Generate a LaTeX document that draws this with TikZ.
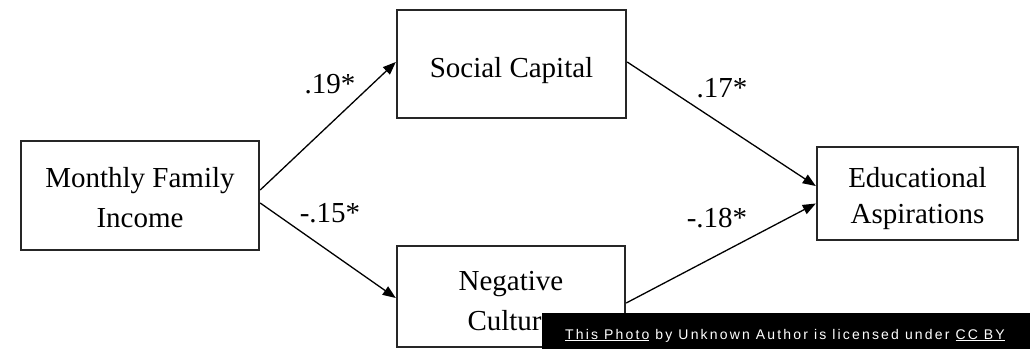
\documentclass[tikz,border=0pt]{standalone}
\usepackage{fontspec}
\setmainfont{Liberation Serif}
\newfontfamily\creditfont[LetterSpace=15.5]{Liberation Sans}
\usetikzlibrary{arrows.meta}
\tikzset{
  font=\fontsize{29}{40}\selectfont,
  varbox/.style = {
    draw=black!85,
    line width=2.4pt,
    align=center,
    inner sep=0pt,
    text depth=0pt
  },
  effect/.style = {
    -{Triangle[length=13pt,width=10pt]},
    line width=1.3pt
  },
  coef/.style = {
    anchor=base,
    inner sep=0pt
  },
  credit/.style = {
    anchor=base,
    inner sep=0pt,
    text=white,
    font=\creditfont\fontsize{14}{16}\selectfont
  }
}

\begin{document}
\begin{tikzpicture}[x=1pt,y=-1pt]

      \useasboundingbox (0,0) rectangle (1030,349);

      \node[varbox, minimum width=238pt, minimum height=109pt, text height=63pt] (income) at (140,195.5) {Monthly Family\\Income};
      \node[varbox, minimum width=229pt, minimum height=108pt, text height=26pt] (social) at (511.5,64) {Social Capital};
      \node[varbox, minimum width=228pt, minimum height=101pt, text height=67pt] (negative) at (511,296.5) {Negative\\Culture};
      \node[varbox, minimum width=201pt, minimum height=93pt, text height=59pt,
            font=\fontsize{29}{36}\selectfont] (aspire) at (917.5,193.5) {Educational\\Aspirations};

      \draw[effect] ([yshift=5.5pt]income.east) -- ([yshift=2pt]social.west);
      \draw[effect] ([yshift=-7.5pt]income.east) -- ([yshift=-1.5pt]negative.west);
      \draw[effect] ([yshift=2pt]social.east) -- ([yshift=7.5pt]aspire.west);
      \draw[effect] ([yshift=-6.5pt]negative.east) -- ([yshift=-10pt]aspire.west);

      \node[coef] (c1) at (330,93) {.19*};
      \node[coef] (c2) at (330,222) {-.15*};
      \node[coef] (c3) at (722,97) {.17*};
      \node[coef] (c4) at (717,227) {-.18*};

      % attribution strip
      \fill (542,313) rectangle (1030,349);
      \node[credit] (note) at (785,339) {\underline{This Photo} by Unknown Author is licensed under \underline{CC BY}};
    \end{tikzpicture}
\end{document}
